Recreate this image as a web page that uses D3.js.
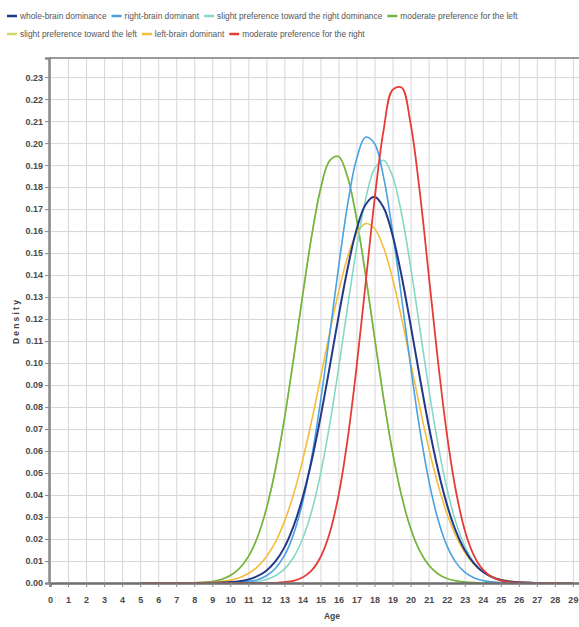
<!DOCTYPE html>
<html><head><meta charset="utf-8">
<script src="https://cdn.jsdelivr.net/npm/d3@7"></script>
<style>body{margin:0;background:#fff}svg{display:block}</style>
</head><body>
<svg id="c" width="579" height="627"></svg>
<script>
// ---- data ----
const ages = [5,6,7,8,8.5,9,9.5,10,10.5,11,11.5,12,12.5,13,13.5,14,14.5,15,15.5,16,16.5,17,17.5,18,18.5,19,19.5,20,20.5,21,21.5,22,22.5,23,23.5,24,24.5,25,25.5,26,26.5,27,28,29];

const wholeBrain =    [0,0,0,0,0,0.0001,0.0002,0.0004,0.0008,0.0016,0.0031,0.0056,0.0098,0.0162,0.0256,0.0385,0.0551,0.0752,0.0977,0.1210,0.1428,0.1606,0.1720,0.1756,0.1707,0.1581,0.1396,0.1173,0.0940,0.0717,0.0522,0.0361,0.0238,0.0150,0.0090,0.0051,0.0028,0.0014,0.0007,0.0003,0.0002,0,0,0];
const rightBrain =    [0,0,0,0,0,0,0,0.0001,0.0003,0.0007,0.0015,0.0033,0.0066,0.0124,0.0220,0.0364,0.0565,0.0823,0.1122,0.1433,0.1717,0.1927,0.2027,0.1998,0.1846,0.1598,0.1297,0.0986,0.0703,0.0470,0.0294,0.0172,0.0095,0.0049,0.0024,0.0011,0.0005,0.0002,0,0,0,0,0,0];
const slightRight =   [0,0,0,0,0,0,0,0,0.0001,0.0003,0.0007,0.0016,0.0033,0.0063,0.0116,0.0199,0.0323,0.0494,0.0714,0.0974,0.1253,0.1521,0.1743,0.1884,0.1922,0.1849,0.1679,0.1439,0.1164,0.0888,0.0639,0.0434,0.0278,0.0168,0.0096,0.0052,0.0026,0.0013,0.0006,0.0002,0.0001,0,0,0];
const moderateLeft =  [0,0,0,0.0001,0.0003,0.0007,0.0016,0.0034,0.0066,0.0120,0.0207,0.0337,0.0516,0.0746,0.1015,0.1301,0.1571,0.1789,0.1919,0.1939,0.1847,0.1658,0.1402,0.1117,0.0839,0.0594,0.0396,0.0249,0.0147,0.0082,0.0043,0.0021,0.0010,0.0004,0.0002,0,0,0,0,0,0,0,0,0];
const slightLeft =    [0,0,0,0.0001,0.0003,0.0007,0.0016,0.0034,0.0066,0.0120,0.0207,0.0337,0.0516,0.0746,0.1015,0.1301,0.1571,0.1789,0.1919,0.1939,0.1847,0.1658,0.1402,0.1117,0.0839,0.0594,0.0396,0.0249,0.0147,0.0082,0.0043,0.0021,0.0010,0.0004,0.0002,0,0,0,0,0,0,0,0,0];
const leftBrain =     [0,0,0,0.0001,0.0002,0.0003,0.0007,0.0013,0.0024,0.0043,0.0073,0.0119,0.0186,0.0279,0.0401,0.0554,0.0733,0.0931,0.1133,0.1322,0.1480,0.1588,0.1634,0.1612,0.1525,0.1384,0.1204,0.1004,0.0803,0.0616,0.0453,0.0319,0.0216,0.0140,0.0087,0.0052,0.0030,0.0016,0.0009,0.0004,0.0002,0.0001,0,0];
const moderateRight = [0,0,0,0,0,0,0,0,0,0,0,0,0.0001,0.0004,0.0010,0.0025,0.0056,0.0117,0.0224,0.0397,0.0650,0.0979,0.1359,0.1742,0.2058,0.2242,0.2253,0.2088,0.1785,0.1406,0.1022,0.0685,0.0424,0.0241,0.0127,0.0062,0.0028,0.0011,0.0004,0.0002,0,0,0,0];

const seriesNames = ["whole-brain dominance","right-brain dominant","slight preference toward the right dominance","moderate preference for the left","slight preference toward the left","left-brain dominant","moderate preference for the right"];
const seriesValues = [wholeBrain, rightBrain, slightRight, moderateLeft, slightLeft, leftBrain, moderateRight];
const seriesColors = ["#24388a","#4aa2e0","#86d8c6","#6fb544","#d2d86a","#f5bd3c","#e63c37"];
const seriesWidths = [2,1.6,1.6,1.6,1.6,1.6,1.8];
const drawOrder = [4,3,5,2,1,0,6];

const xTicks = [0,1,2,3,4,5,6,7,8,9,10,11,12,13,14,15,16,17,18,19,20,21,22,23,24,25,26,27,28,29];
const xGrid = [0,1,2,3,4,5,6,7,8,9,10,11,12,13,14,15,16,17,18,19,20,21,22,23,24,25,26,27,28,29,30,31];
const yTicks = [0,0.01,0.02,0.03,0.04,0.05,0.06,0.07,0.08,0.09,0.10,0.11,0.12,0.13,0.14,0.15,0.16,0.17,0.18,0.19,0.20,0.21,0.22,0.23];
const xTitle = "Age", yTitle = "Density";

// ---- layout ----
const svg = d3.select("#c");
const unit = 18.03;
const pLeft = 50, pTop = 58, pBottom = 583, pRight = 50 + 31 * unit;
const x = d3.scaleLinear().domain([0, 31]).range([pLeft, pRight]);
const y = d3.scaleLinear().domain([0, 0.2387]).range([pBottom, pTop]);
const FONT = "Liberation Sans, Arial, sans-serif";

// grid
const gx = svg.append("g").attr("transform", `translate(0,${pBottom})`)
  .call(d3.axisBottom(x).tickValues(xGrid).tickSize(-(pBottom - pTop)).tickFormat(""));
gx.select(".domain").remove();
gx.selectAll("line").attr("stroke", "#d6d6d6");
const gy = svg.append("g").attr("transform", `translate(${pLeft},0)`)
  .call(d3.axisLeft(y).tickValues(yTicks).tickSize(-(pRight - pLeft)).tickFormat(""));
gy.select(".domain").remove();
gy.selectAll("line").attr("stroke", "#d6d6d6");

// frame top
svg.append("line").attr("x1", pLeft - 1).attr("x2", pRight).attr("y1", pTop).attr("y2", pTop)
  .attr("stroke", "#9a9a9a").attr("stroke-width", 2);

// curves
svg.append("clipPath").attr("id", "clip").append("rect")
  .attr("x", pLeft).attr("y", pTop).attr("width", pRight - pLeft).attr("height", pBottom - pTop + 2);
const line = d3.line().x((d, i) => x(ages[i])).y(d => y(d)).curve(d3.curveCatmullRom.alpha(0.5));
const lg = svg.append("g").attr("clip-path", "url(#clip)");
drawOrder.forEach(k => {
  lg.append("path").datum(seriesValues[k]).attr("d", line)
    .attr("fill", "none").attr("stroke", seriesColors[k]).attr("stroke-width", seriesWidths[k])
    .attr("stroke-linejoin", "round");
});

// axes
const ax = svg.append("g").attr("transform", `translate(0,${pBottom})`)
  .call(d3.axisBottom(x).tickValues(xTicks).tickSize(4).tickPadding(10).tickFormat(d3.format("d")));
ax.select(".domain").attr("stroke", "#6e6e6e").attr("stroke-width", 2.5);
ax.selectAll(".tick line").attr("stroke", "#888");
ax.selectAll("text").attr("font-family", FONT).attr("font-size", 9)
  .attr("font-weight", "bold").attr("fill", "#4a4a4a");

const ay = svg.append("g").attr("transform", `translate(${pLeft - 1},0)`)
  .call(d3.axisLeft(y).tickValues(yTicks).tickSize(4).tickPadding(2).tickFormat(d3.format(".2f")));
ay.select(".domain").attr("stroke", "#8a8a8a").attr("stroke-width", 2.5);
ay.selectAll(".tick line").attr("stroke", "#888");
ay.selectAll("text").attr("font-family", FONT).attr("font-size", 9)
  .attr("font-weight", "bold").attr("fill", "#4a4a4a");

// titles
svg.append("text").text(xTitle).attr("x", 332).attr("y", 619).attr("text-anchor", "middle")
  .attr("font-family", FONT).attr("font-size", 8.5)
  .attr("font-weight", "bold").attr("fill", "#444");
svg.append("text").text(yTitle).attr("transform", "translate(19,321) rotate(-90)")
  .attr("text-anchor", "middle").attr("font-family", FONT)
  .attr("font-size", 8.5).attr("font-weight", "bold").attr("letter-spacing", 2.2).attr("fill", "#444");

// legend
const rows = [[0,1,2,3],[4,5,6]];
const rowY = [16, 34];
rows.forEach((row, r) => {
  let cx = 7;
  row.forEach(k => {
    svg.append("line").attr("x1", cx).attr("x2", cx + 10).attr("y1", rowY[r]).attr("y2", rowY[r])
      .attr("stroke", seriesColors[k]).attr("stroke-width", 2.5);
    const t = svg.append("text").text(seriesNames[k]).attr("x", cx + 13).attr("y", rowY[r] + 3)
      .attr("font-family", FONT).attr("font-size", 8.4).attr("fill", "#555");
    cx += 13 + t.node().getComputedTextLength() + 5;
  });
});
</script>
</body></html>
